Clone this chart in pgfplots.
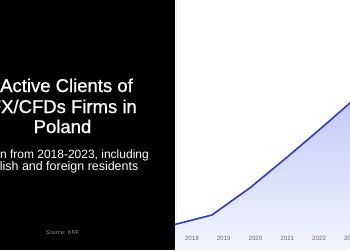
\documentclass[border=0pt]{standalone}
\usepackage{pgfplots}
\pgfplotsset{compat=1.18}
\usepackage{fontspec}
\setmainfont{Liberation Sans}
\newfontfamily\titlefont[FakeBold=0.8]{Liberation Sans}
\definecolor{lineblue}{HTML}{2B3CCF}
\definecolor{filltop}{HTML}{BFC8F7}
\definecolor{fillbot}{HTML}{F3F5FE}
\definecolor{srcgray}{HTML}{8A8A8A}
\definecolor{tickgray}{HTML}{6A6A6A}
\pgfplotstableread{
year value
2017.40 25
2018.63 35
2019.82 62
2021.00 93
2022.18 125
2022.97 147
2023.50 161
}\clients
\begin{document}
\begin{tikzpicture}[x=1pt,y=1pt]
\path[use as bounding box] (0,0) rectangle (350,250);
\clip (0,0) rectangle (350,250);
\fill[black] (0,0) rectangle (175,250);
\fill[white] (175,0) rectangle (350,250);
\draw[gray!12, line width=0.6pt] (175.8,0) -- (175.8,250);
% left panel text
\node[anchor=base east, inner sep=0pt, text=white, font=\titlefont\fontsize{18.5}{20}\selectfont] at (133,158) {Active Clients of};
\node[anchor=base east, inner sep=0pt, text=white, font=\titlefont\fontsize{18.5}{20}\selectfont] at (137,137) {FX/CFDs Firms in};
\node[anchor=base, inner sep=0pt, text=white, font=\titlefont\fontsize{18.5}{20}\selectfont] at (62.5,117) {Poland};
\node[anchor=base east, inner sep=0pt, text=white, font=\fontsize{12}{13}\selectfont] at (149,91.5) {Shown from 2018-2023, including};
\node[anchor=base east, inner sep=0pt, text=white, font=\fontsize{12.45}{13}\selectfont] at (138.5,79.5) {Polish and foreign residents};
\node[anchor=base, text=srcgray, font=\fontsize{5.8}{7}\selectfont] at (62.5,16) {Source: KNF};
\begin{axis}[
  at={(175pt,0pt)}, anchor=south west,
  scale only axis, width=191.8pt, height=250pt,
  xmin=2017.47, xmax=2023.5, ymin=0, ymax=250,
  axis line style={draw=none}, tick style={draw=none},
  ytick=\empty,
  xtick={2018,2019,2020,2021,2022,2023},
  xticklabels={2018,2019,2020,2021,2022,2023},
  xticklabel style={anchor=base, yshift=10pt, font=\fontsize{6.2}{7}\selectfont, text=tickgray},
  /pgf/number format/assume math mode=true,
  axis on top,
]
\addplot[draw=none, top color=filltop, bottom color=fillbot] table[x=year, y=value] {\clients} \closedcycle;
\addplot[lineblue, line width=1.6pt, line join=round] table[x=year, y=value] {\clients};
\end{axis}
\end{tikzpicture}
\end{document}
